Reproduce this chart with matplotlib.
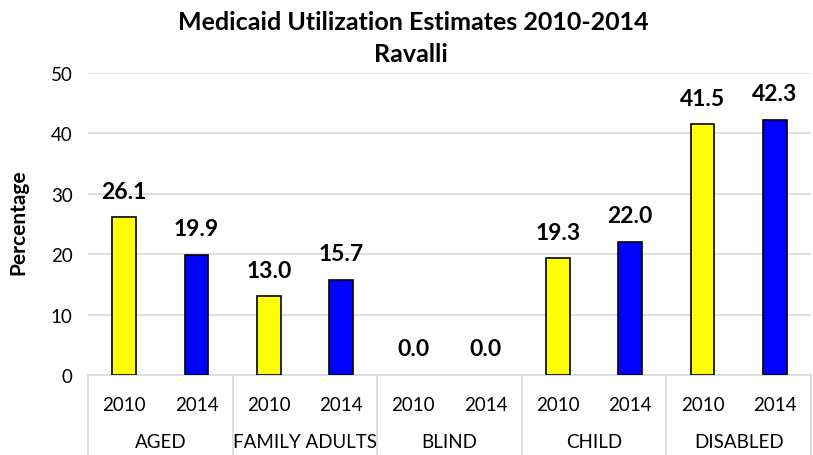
import matplotlib
matplotlib.use("Agg")
import matplotlib.pyplot as plt
import matplotlib.transforms as mtransforms

categories = ["AGED", "FAMILY ADULTS", "BLIND", "CHILD", "DISABLED"]
years = ["2010", "2014"]
values_2010 = [26.1, 13.0, 0.0, 19.3, 41.5]
values_2014 = [19.9, 15.7, 0.0, 22.0, 42.3]
colors = {"2010": "#FFFF00", "2014": "#0000FF"}

plt.rcParams['font.family'] = ['Lato', 'DejaVu Sans']

W, H = 813, 456
fig = plt.figure(figsize=(W / 100, H / 100), dpi=100)
ax = fig.add_axes([88 / W, (H - 376) / H, (811 - 88) / W, (376 - 74) / H])

n = len(categories)
positions = []
labels = []
for i in range(n):
    for j, (yr, vals) in enumerate(zip(years, [values_2010, values_2014])):
        x = i * 2 + j
        v = vals[i]
        ax.bar(x, v, width=0.33, color=colors[yr], edgecolor="black",
               linewidth=1.2 if v > 0 else 0, zorder=3)
        ax.text(x, v + 2.6, f"{v:.1f}", ha="center", va="bottom", fontsize=16.5, fontweight="bold")
        positions.append(x)
        labels.append(yr)

ax.set_xlim(-0.5, 2 * n - 0.5)
ax.set_ylim(0, 50)
ax.set_yticks([0, 10, 20, 30, 40, 50])
ax.tick_params(axis="y", length=0, labelsize=13.5, pad=11)
ax.tick_params(axis="x", length=0, labelsize=13.5, pad=15)
ax.set_xticks(positions)
ax.set_xticklabels(labels)
ax.yaxis.grid(True, color="#D9D9D9", linewidth=1.2, zorder=0)
for s in ["left", "right", "top"]:
    ax.spines[s].set_visible(False)
ax.spines["bottom"].set_color("#D9D9D9")
ax.spines["bottom"].set_linewidth(1.2)

# group labels and separators
trans = mtransforms.blended_transform_factory(ax.transData, ax.transAxes)
ax_h_px = 376 - 74
for i in range(n + 1):
    xb = i * 2 - 0.5
    ax.plot([xb, xb], [0, -80 / ax_h_px], transform=trans, color="#D9D9D9",
            linewidth=1.2, clip_on=False)
for i, c in enumerate(categories):
    ax.text(i * 2 + 0.5, -67 / ax_h_px, c, transform=trans, ha="center", va="center", fontsize=13.5)

fig.text(18 / W, 1 - 222 / H, "Percentage", rotation=90, ha="center", va="center",
         fontsize=15, fontweight="bold")

fig.text(413 / W, 1 - 22 / H, "Medicaid Utilization Estimates 2010-2014", ha="center", va="center",
         fontsize=18, fontweight="bold")
fig.text(411 / W, 1 - 55 / H, "Ravalli", ha="center", va="center", fontsize=18, fontweight="bold")

fig.savefig("out.png", dpi=100)
